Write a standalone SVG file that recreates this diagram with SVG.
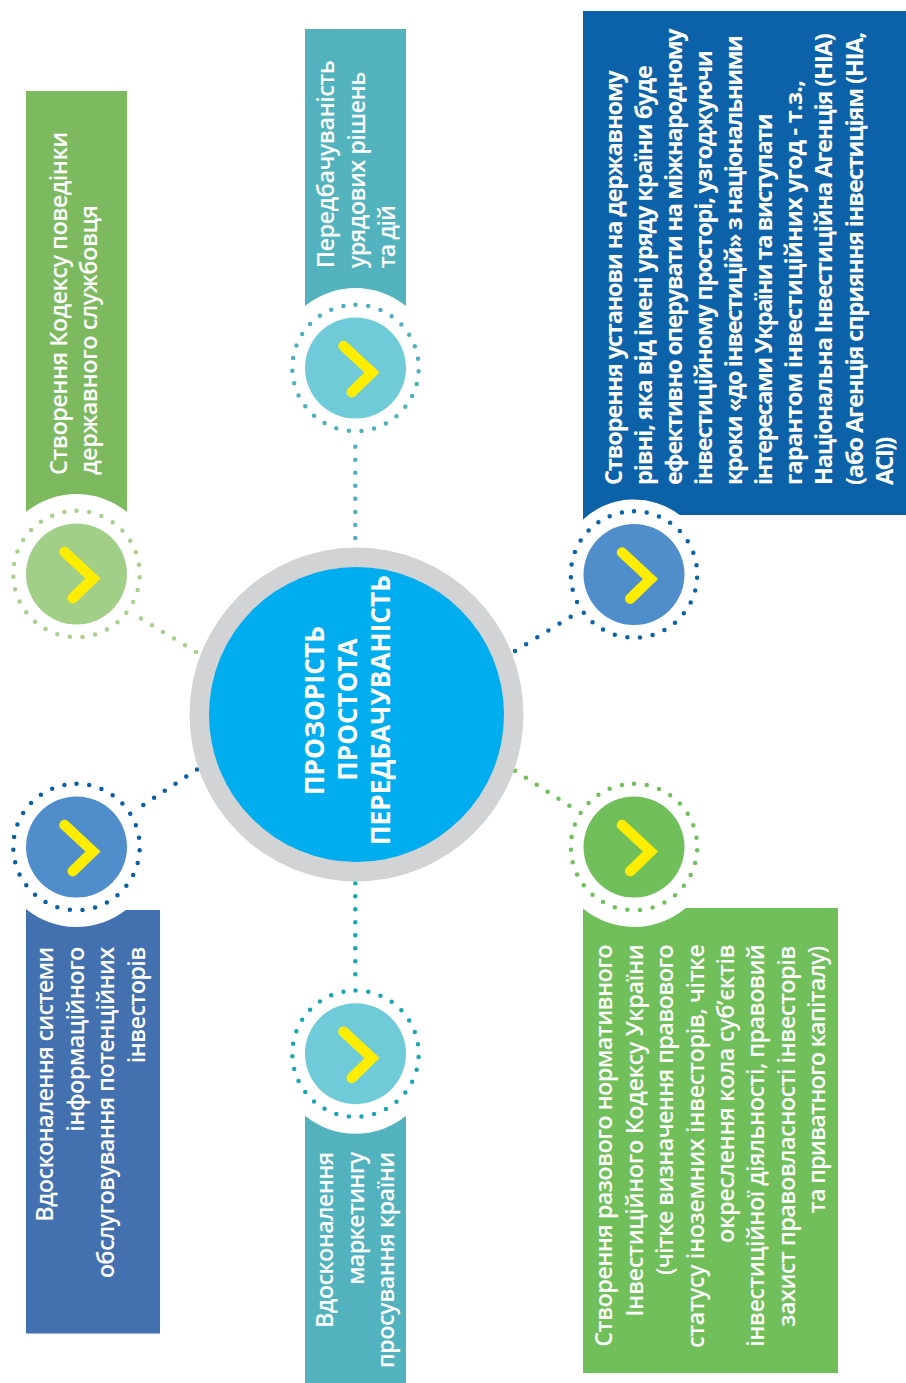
<svg xmlns="http://www.w3.org/2000/svg" width="906" height="1383" viewBox="0 0 906 1383">
<style>
.t{font-family:"Open Sans","Noto Sans",sans-serif;font-size:23.5px;font-weight:600;fill:#fff}
.tb{font-weight:700}
.ctr{font-family:"Open Sans","Noto Sans",sans-serif;font-size:27.5px;font-weight:700;fill:#fff}
.dots{fill:none;stroke-width:4.5;stroke-linecap:round}
.ring{fill:none;stroke-width:4.5;stroke-linecap:round;stroke-dasharray:0 12.81}
.chev{fill:none;stroke:#FFED00;stroke-width:10.5;stroke-linecap:round;stroke-linejoin:miter}
</style>
<defs>
<path id="chev" d="M-12,-22 L16.5,4.5 L-3.8,24.2"/>
</defs>
<rect width="906" height="1383" fill="#fff"/>

<g id="connectors">
<line class="dots" x1="196" y1="652" x2="140.2" y2="618" stroke="#A8D08D" stroke-dasharray="0 12.88"/>
<line class="dots" x1="355.3" y1="446.7" x2="355.3" y2="539" stroke="#4FB0C0" stroke-dasharray="0 13.04"/>
<line class="dots" x1="515" y1="651" x2="571.5" y2="616.2" stroke="#0A62A8" stroke-dasharray="0 13.08"/>
<line class="dots" x1="515" y1="770.7" x2="570.1" y2="806.2" stroke="#70BF5A" stroke-dasharray="0 12.92"/>
<line class="dots" x1="355.3" y1="883.3" x2="355.3" y2="975.3" stroke="#1AA5B2" stroke-dasharray="0 13"/>
<line class="dots" x1="197" y1="769.5" x2="142.5" y2="805.5" stroke="#0A5EA5" stroke-dasharray="0 12.87"/>
</g>

<g id="node-center">
<circle cx="356.5" cy="714.5" r="167" fill="#D1D3D4"/>
<circle cx="356.5" cy="714.5" r="147.5" fill="#00ADEE"/>
<text class="ctr" transform="rotate(-90)" x="-795" y="324" textLength="169" lengthAdjust="spacingAndGlyphs">ПРОЗОРІСТЬ</text>
<text class="ctr" transform="rotate(-90)" x="-780.7" y="356.7" textLength="142.3" lengthAdjust="spacingAndGlyphs">ПРОСТОТА</text>
<text class="ctr" transform="rotate(-90)" x="-845" y="389.5" textLength="270" lengthAdjust="spacingAndGlyphs">ПЕРЕДБАЧУВАНІСТЬ</text>
</g>

<g id="node-a">
<path d="M26,91 H127 V512 A80,80 0 0 0 26,512 Z" fill="#7DBA5F"/>
<circle class="ring" cx="76.5" cy="574" r="63.2" stroke="#A8D08D" transform="rotate(-90 76.5 574)"/>
<circle cx="76.5" cy="574" r="50.5" fill="#A2CF87"/>
<use href="#chev" class="chev" x="76.5" y="574"/>
<text class="t" transform="rotate(-90)" x="-475" y="66.7" textLength="343.3">Створення Кодексу поведінки</text>
<text class="t" transform="rotate(-90)" x="-475" y="97.3" textLength="270">державного службовця</text>
</g>

<g id="node-b">
<path d="M305,29 H406 V306 A80,80 0 0 0 305,306 Z" fill="#52B3BE"/>
<circle class="ring" cx="355.5" cy="368" r="63.2" stroke="#4FB0C0" transform="rotate(-90 355.5 368)"/>
<circle cx="355.5" cy="368" r="50.5" fill="#70CBD9"/>
<use href="#chev" class="chev" x="355.5" y="368"/>
<text class="t" transform="rotate(-90)" x="-268.3" y="334" textLength="208.3">Передбачуваність</text>
<text class="t" transform="rotate(-90)" x="-268.3" y="364.5" textLength="196.6">урядових рішень</text>
<text class="t" transform="rotate(-90)" x="-268.3" y="395" textLength="63.3">та дій</text>
</g>

<g id="node-c">
<path d="M583,11 H906 V515 H679.7 A75,75 0 0 0 583,519.5 Z" fill="#0B62A8"/>
<circle class="ring" cx="634" cy="574.5" r="63.2" stroke="#0A62A8" transform="rotate(-90 634 574.5)"/>
<circle cx="634" cy="574.5" r="50.5" fill="#4F8ECB"/>
<use href="#chev" class="chev" x="634" y="574.5"/>
<text class="t tb" transform="rotate(-90)" x="-485" y="621.7" textLength="415">Створення установи на державному</text>
<text class="t tb" transform="rotate(-90)" x="-485" y="651.8" textLength="420">рівні, яка від імені уряду країни буде</text>
<text class="t tb" transform="rotate(-90)" x="-485" y="681.9" textLength="456.7">ефективно оперувати на міжнародному</text>
<text class="t tb" transform="rotate(-90)" x="-485" y="712" textLength="435">інвестиційному просторі, узгоджуючи</text>
<text class="t tb" transform="rotate(-90)" x="-485" y="742.1" textLength="450">кроки «до інвестицій» з національними</text>
<text class="t tb" transform="rotate(-90)" x="-485" y="772.2" textLength="371.7">інтересами України та виступати</text>
<text class="t tb" transform="rotate(-90)" x="-485" y="802.3" textLength="405">гарантом інвестиційних угод - т.з.,</text>
<text class="t tb" transform="rotate(-90)" x="-485" y="832.4" textLength="451.7">Національна Інвестиційна Агенція (НІА)</text>
<text class="t tb" transform="rotate(-90)" x="-485" y="862.5" textLength="453.3">(або Агенція сприяння інвестиціям (НІА,</text>
<text class="t tb" transform="rotate(-90)" x="-485" y="892.6" textLength="48.3">АСІ))</text>
</g>

<g id="node-d">
<path d="M583,908.6 A80,80 0 0 0 685.8,908 H838 V1373 H583 Z" fill="#70BF5A"/>
<circle class="ring" cx="634" cy="847" r="63.2" stroke="#70BF5A" transform="rotate(-90 634 847)"/>
<circle cx="634" cy="847" r="50.5" fill="#70BF5A"/>
<use href="#chev" class="chev" x="634" y="847"/>
<text class="t" transform="rotate(-90)" x="-1346.7" y="612.3" textLength="402.4">Створення разового нормативного</text>
<text class="t" transform="rotate(-90)" x="-1316.7" y="642.7" textLength="372.4">Інвестиційного Кодексу України</text>
<text class="t" transform="rotate(-90)" x="-1275" y="673.1" textLength="330.7">(чітке визначення правового</text>
<text class="t" transform="rotate(-90)" x="-1348" y="703.5" textLength="403.7">статусу іноземних інвесторів, чітке</text>
<text class="t" transform="rotate(-90)" x="-1243" y="733.9" textLength="298.7">окреслення кола суб’єктів</text>
<text class="t" transform="rotate(-90)" x="-1346.7" y="764.3" textLength="402.4">інвестиційної діяльності, правовий</text>
<text class="t" transform="rotate(-90)" x="-1326.7" y="794.7" textLength="381">захист правовласності інвесторів</text>
<text class="t" transform="rotate(-90)" x="-1213.3" y="825.1" textLength="267.5">та приватного капіталу)</text>
</g>

<g id="node-e">
<path d="M305,1115.8 A80,80 0 0 0 406,1115.8 V1383 H305 Z" fill="#52B3BE"/>
<circle class="ring" cx="355.5" cy="1053.7" r="63.2" stroke="#1AA5B2" transform="rotate(-90 355.5 1053.7)"/>
<circle cx="355.5" cy="1053.7" r="50.5" fill="#70CBD9"/>
<use href="#chev" class="chev" x="355.5" y="1053.7"/>
<text class="t" transform="rotate(-90)" x="-1328" y="332.5" textLength="176.3">Вдосконалення</text>
<text class="t" transform="rotate(-90)" x="-1285" y="363.5" textLength="133.3">маркетингу</text>
<text class="t" transform="rotate(-90)" x="-1368.3" y="394" textLength="216.6">просування країни</text>
</g>

<g id="node-f">
<path d="M26,909 A80,80 0 0 0 125.8,910 H160 V1333.5 H26 Z" fill="#4370AF"/>
<circle class="ring" cx="76.5" cy="847" r="63.2" stroke="#0A5EA5" transform="rotate(-90 76.5 847)"/>
<circle cx="76.5" cy="847" r="50.5" fill="#4F8ECB"/>
<use href="#chev" class="chev" x="76.5" y="847"/>
<text class="t" transform="rotate(-90)" x="-1221.7" y="53.3" textLength="275">Вдосконалення системи</text>
<text class="t" transform="rotate(-90)" x="-1131.7" y="83.8" textLength="185">інформаційного</text>
<text class="t" transform="rotate(-90)" x="-1278.3" y="114.3" textLength="331.6">обслуговування потенційних</text>
<text class="t" transform="rotate(-90)" x="-1063.3" y="144.8" textLength="116.6">інвесторів</text>
</g>
</svg>
